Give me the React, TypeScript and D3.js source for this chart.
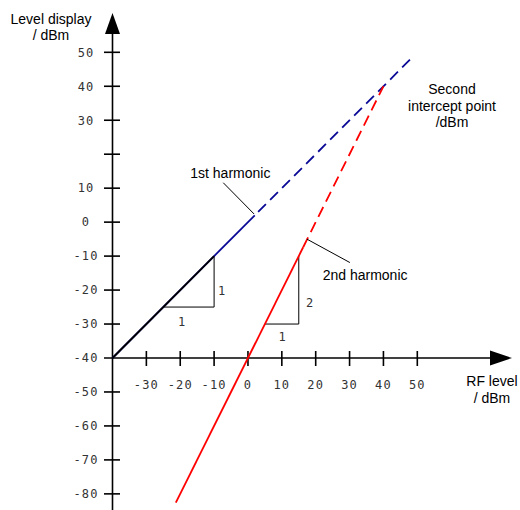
import React from 'react';
import * as d3 from 'd3';

const xTicks = [-30, -20, -10, 0, 10, 20, 30, 40, 50];
const yTicks = [50, 40, 30, 20, 10, 0, -10, -20, -30, -50, -60, -70, -80];
const yTickLabels = ['50', '40', '30', '', '10', '0', '-10', '-20', '-30', '-50', '-60', '-70', '-80'];
const originLabel = '-40';

const firstSolid: [number, number][] = [[-40, -40], [2, 2]];
const firstDark: [number, number][] = [[-40, -40], [-10, -10]];
const firstDashed: [number, number][] = [[3, 3], [48.7, 48.7]];
const secondSolid: [number, number][] = [[-21.3, -82.6], [16.3, -7.4]];
const secondDashed: [number, number][] = [[16.3, -7.4], [40, 40]];
const tri1: [number, number][] = [[-25, -25], [-10, -25], [-10, -10]];
const tri2: [number, number][] = [[5, -30], [15, -30], [15, -10]];
const leader1: [number, number][] = [[-7.3, 11.6], [1.8, 2.4]];
const leader2: [number, number][] = [[17.4, -5.0], [30.1, -11.9]];

export default function App() {
  const W = 520, H = 510;
  const x = d3.scaleLinear().domain([-40, 50]).range([112.5, 417.3]);
  const y = d3.scaleLinear().domain([-40, 50]).range([358, 52.3]);
  const line = d3.line<[number, number]>().x(d => x(d[0])).y(d => y(d[1]));
  const ox = x(-40), oy = y(-40);
  const tickFont = "'DejaVu Sans Mono', monospace";
  const labFont = "'Liberation Sans', Arial, sans-serif";
  const tfs = 12;
  const ls = 1.1;
  const lfs = 14;
  return (
    <svg width={W} height={H} style={{ position: 'absolute', left: 0, top: 0, background: '#fff' }}>
      {/* axes */}
      <line x1={ox} y1={30} x2={ox} y2={510} stroke="#000" strokeWidth={1.6} />
      <path d={`M${ox},13 L${ox - 7.5},34 L${ox + 7.5},34 Z`} fill="#000" />
      <line x1={104} y1={oy} x2={495} y2={oy} stroke="#000" strokeWidth={1.6} />
      <path d={`M512,${oy} L490,${oy - 7.5} L490,${oy + 7.5} Z`} fill="#000" />
      {yTicks.map(t => (
        <line key={'yt' + t} x1={ox - 8.5} x2={ox + 7.5} y1={y(t)} y2={y(t)} stroke="#000" strokeWidth={1.6} />
      ))}
      {xTicks.map(t => (
        <line key={'xt' + t} x1={x(t)} x2={x(t)} y1={oy - 7} y2={oy + 8} stroke="#000" strokeWidth={1.6} />
      ))}
      {yTicks.map((t, i) => (
        <text key={'yl' + t} x={86} y={y(t)} dy="0.36em" textAnchor="middle" fontFamily={tickFont} fontSize={tfs} fill="#333" letterSpacing={ls}>{yTickLabels[i]}</text>
      ))}
      <text x={86} y={oy} dy="0.36em" textAnchor="middle" fontFamily={tickFont} fontSize={tfs} fill="#333" letterSpacing={ls}>{originLabel}</text>
      {xTicks.map(t => (
        <text key={'xl' + t} x={x(t)} y={385} dy="0.36em" textAnchor="middle" fontFamily={tickFont} fontSize={tfs} fill="#333" letterSpacing={ls}>{String(t)}</text>
      ))}
      {/* triangles */}
      <path d={line(tri1) || ''} fill="none" stroke="#000" strokeWidth={1} />
      <path d={line(tri2) || ''} fill="none" stroke="#000" strokeWidth={1} />
      <text x={x(-19.6)} y={y(-29.2)} dy="0.36em" textAnchor="middle" fontFamily={tickFont} fontSize={tfs} fill="#333">1</text>
      <text x={x(-7.8)} y={y(-20.3)} dy="0.36em" textAnchor="middle" fontFamily={tickFont} fontSize={tfs} fill="#333">1</text>
      <text x={x(10.1)} y={y(-33.8)} dy="0.36em" textAnchor="middle" fontFamily={tickFont} fontSize={tfs} fill="#333">1</text>
      <text x={x(18.2)} y={y(-23.8)} dy="0.36em" textAnchor="middle" fontFamily={tickFont} fontSize={tfs} fill="#333">2</text>
      {/* lines */}
      <path d={line(firstSolid) || ''} fill="none" stroke="#0a0a96" strokeWidth={1.8} />
      <path d={line(firstDark) || ''} fill="none" stroke="#000" strokeWidth={1.8} />
      <path d={line(firstDashed) || ''} fill="none" stroke="#0a0a96" strokeWidth={1.8} strokeDasharray="11,6" />
      <path d={line(secondSolid) || ''} fill="none" stroke="#ff0000" strokeWidth={1.8} />
      <path d={line(secondDashed) || ''} fill="none" stroke="#ff0000" strokeWidth={1.8} strokeDasharray="11,6" />
      {/* leaders */}
      <path d={line(leader1) || ''} fill="none" stroke="#000" strokeWidth={1} />
      <path d={line(leader2) || ''} fill="none" stroke="#000" strokeWidth={1} />
      {/* labels */}
      <text x={x(-5.2)} y={178} textAnchor="middle" fontFamily={labFont} fontSize={lfs} fill="#000">1st harmonic</text>
      <text x={322.7} y={280} textAnchor="start" fontFamily={labFont} fontSize={lfs} fill="#000">2nd harmonic</text>
      <text x={51} y={24} textAnchor="middle" fontFamily={labFont} fontSize={lfs} fill="#000">Level display</text>
      <text x={51} y={40} textAnchor="middle" fontFamily={labFont} fontSize={lfs} fill="#000">/ dBm</text>
      <text x={452} y={94} textAnchor="middle" fontFamily={labFont} fontSize={lfs} fill="#000">Second</text>
      <text x={452} y={111} textAnchor="middle" fontFamily={labFont} fontSize={lfs} fill="#000">intercept point</text>
      <text x={452} y={127} textAnchor="middle" fontFamily={labFont} fontSize={lfs} fill="#000">/dBm</text>
      <text x={492} y={386} textAnchor="middle" fontFamily={labFont} fontSize={lfs} fill="#000">RF level</text>
      <text x={492} y={403} textAnchor="middle" fontFamily={labFont} fontSize={lfs} fill="#000">/ dBm</text>
    </svg>
  );
}
